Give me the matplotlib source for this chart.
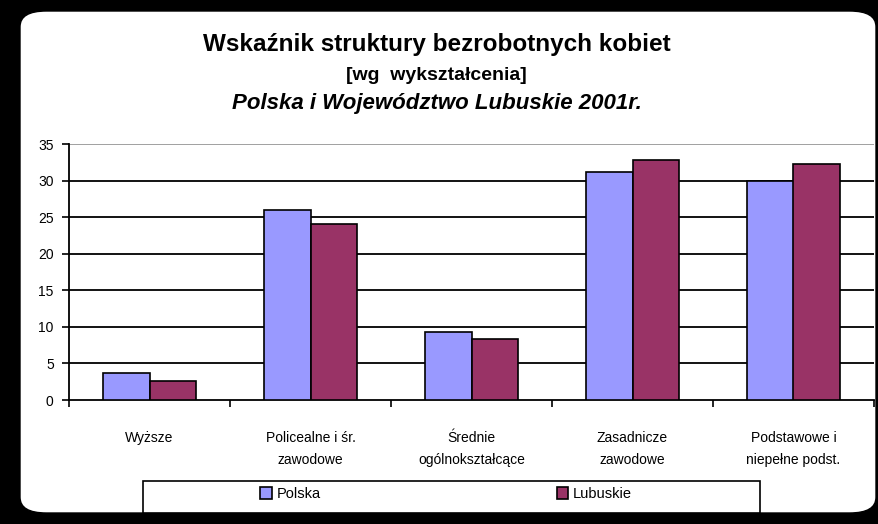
import numpy as np
import matplotlib
matplotlib.use('Agg')
import matplotlib.pyplot as plt
from matplotlib.patches import FancyBboxPatch, Rectangle

plt.rcParams['font.family'] = ['Liberation Sans', 'DejaVu Sans']

categories = ['Wyższe', 'Policealne i śr.\nzawodowe', 'Średnie\nogólnokształcące',
              'Zasadnicze\nzawodowe', 'Podstawowe i\nniepełne podst.']
polska = [3.7, 26.0, 9.3, 31.2, 29.9]
lubuskie = [2.6, 24.0, 8.4, 32.8, 32.3]
series_names = ['Polska', 'Lubuskie']
yticks = [0, 5, 10, 15, 20, 25, 30, 35]

W, H = 879, 524
fig = plt.figure(figsize=(W / 100, H / 100), dpi=100)
fig.patch.set_facecolor('black')

# white rounded card behind everything
card = FancyBboxPatch((20 / W, 11 / H), (876 - 20) / W, (513 - 11) / H,
                      boxstyle='round,pad=0,rounding_size=0.03',
                      transform=fig.transFigure, facecolor='white',
                      edgecolor='black', linewidth=1, zorder=-10)
fig.patches.append(card)

ax = fig.add_axes([69 / W, 1 - 400 / H, (874 - 69) / W, (400 - 144) / H])
ax.set_facecolor('none')

x = np.arange(len(categories))
w = 0.29
ax.bar(x - w / 2, polska, w, color='#9999FF', edgecolor='black', linewidth=1.2,
       label=series_names[0], zorder=3)
ax.bar(x + w / 2, lubuskie, w, color='#993366', edgecolor='black', linewidth=1.2,
       label=series_names[1], zorder=3)

ax.set_xlim(-0.5, len(categories) - 0.5)
ax.set_ylim(0, 35)
ax.set_yticks(yticks)
for yv in yticks[1:]:
    ax.axhline(yv, color='#999999' if yv == 35 else 'black', linewidth=1.3, zorder=1)

ax.set_xticks(x)
ax.set_xticklabels(categories, fontsize=10, linespacing=1.8)
ax.tick_params(axis='x', length=0, pad=22)
ax.set_xticks(np.arange(len(categories) + 1) - 0.5, minor=True)
ax.tick_params(axis='x', which='minor', length=5, width=1.2, direction='out')
ax.tick_params(axis='y', length=5, width=1.2, direction='out', labelsize=10, pad=6)

for s in ['top', 'right']:
    ax.spines[s].set_visible(False)
ax.spines['left'].set_linewidth(1.3)
ax.spines['bottom'].set_linewidth(1.3)

fig.text(0.497, 1 - 45 / H, 'Wskaźnik struktury bezrobotnych kobiet',
         ha='center', va='center', fontsize=17.5, fontweight='bold')
fig.text(0.497, 1 - 75 / H, '[wg  wykształcenia]',
         ha='center', va='center', fontsize=14, fontweight='bold')
fig.text(0.497, 1 - 104 / H, 'Polska i Województwo Lubuskie 2001r.',
         ha='center', va='center', fontsize=16, fontweight='bold', style='italic')

# legend box
fig.patches.append(Rectangle((143 / W, 1 - 513 / H), (760 - 143) / W, (513 - 481) / H,
                             transform=fig.transFigure, facecolor='white',
                             edgecolor='black', linewidth=1.2, zorder=1))
fig.legend(loc='center', bbox_to_anchor=(446 / W, 1 - 494 / H), ncol=2,
           frameon=False, fontsize=10.5, handlelength=0.8, handleheight=0.8,
           handletextpad=0.3, columnspacing=16.2)

fig.savefig('out.png', dpi=100, facecolor=fig.get_facecolor())
